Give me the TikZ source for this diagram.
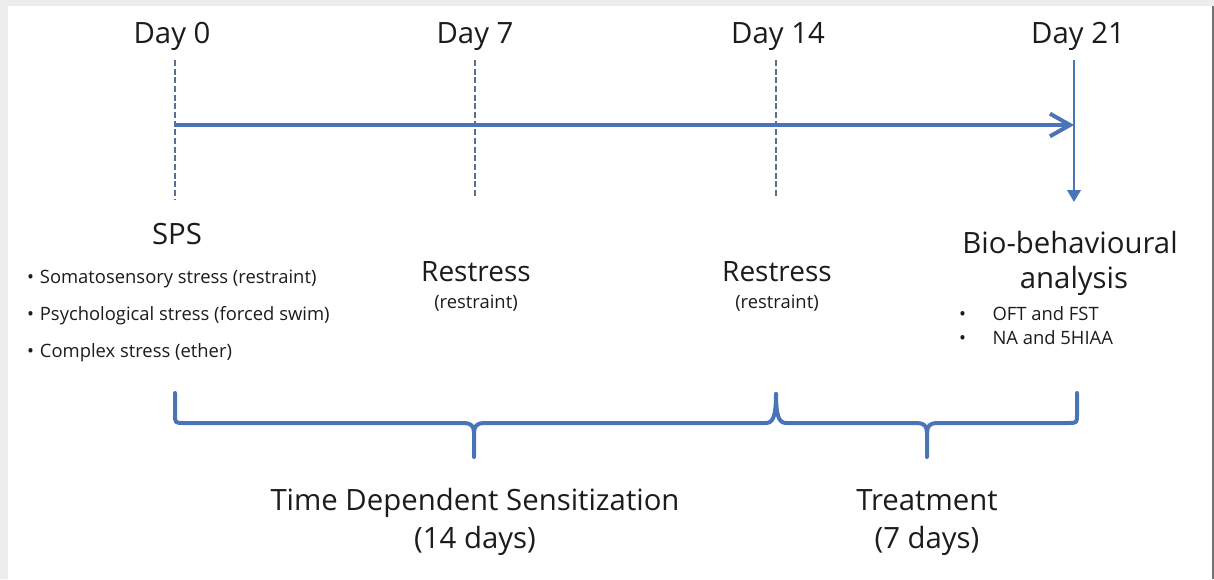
\documentclass[tikz,border=0pt]{standalone}
\usepackage{fontspec}
\setmainfont{Open Sans}
\usetikzlibrary{arrows.meta}
\definecolor{tlblue}{HTML}{4A74B8}
\definecolor{dashc}{HTML}{5A7090}
\definecolor{txt}{HTML}{1C1C1C}
\begin{document}
\begin{tikzpicture}[x=0.75pt,y=-0.75pt,
  every node/.style={text=txt,inner sep=0pt,outer sep=0pt},
  big/.style={font=\fontsize{22}{26}\selectfont,anchor=base},
  mid/.style={font=\fontsize{21}{25}\selectfont,anchor=base},
  small/.style={font=\fontsize{13.8}{17}\selectfont,anchor=base},
  smallleft/.style={font=\fontsize{13.8}{17}\selectfont,anchor=base west},
  dashline/.style={draw=dashc,line width=2pt,dash pattern=on 4.5pt off 2pt},
  mainarrow/.style={draw=tlblue,line width=3pt,-{Straight Barb[length=15pt,width=17pt]}},
  downarrow/.style={draw=tlblue,line width=2.2pt,-{Triangle[length=9pt,width=10pt]}},
  bracestyle/.style={draw=tlblue,line width=3pt,line cap=round,line join=round}]
\useasboundingbox (0,0) rectangle (1214,579);
\fill[white] (0,0) rectangle (1214,579);
\fill[black!7] (0,0) rectangle (1214,6);
\fill[black!7] (0,0) rectangle (8,579);
\fill[black!55] (1212,6) rectangle (1214,579);

% day labels
\node[big] (d0) at (172,43) {Day 0};
\node[big] (d7) at (475,43) {Day 7};
\node[big] (d14) at (778,43) {Day 14};
\node[big] (d21) at (1078,43) {Day 21};

% vertical markers
\coordinate (t0) at (175,60);  \coordinate (b0) at (175,200);
\coordinate (t7) at (475,60);  \coordinate (b7) at (475,198);
\coordinate (t14) at (776,60); \coordinate (b14) at (776,198);
\coordinate (t21) at (1074,60); \coordinate (b21) at (1074,202);
\draw[dashline] (t0) -- (b0);
\draw[dashline] (t7) -- (b7);
\draw[dashline] (t14) -- (b14);
\draw[downarrow] (t21) -- (b21);

% main timeline
\coordinate (s0) at (175,125);
\coordinate (e21) at (1074,125);
\draw[mainarrow] (s0) -- (e21);

% Day 0 block
\node[big] (sps) at (177,244) {SPS};
\node[smallleft] (sp1) at (27,283) {•\hspace{4.5pt}Somatosensory stress (restraint)};
\node[smallleft] (sp2) at (27,320) {•\hspace{4.5pt}Psychological stress (forced swim)};
\node[smallleft] (sp3) at (27,357) {•\hspace{4.5pt}Complex stress (ether)};

% Restress blocks
\node[mid] (r7) at (476,281) {Restress};
\node[small] (r7b) at (476,308) {(restraint)};
\node[mid] (r14) at (777,281) {Restress};
\node[small] (r14b) at (777,308) {(restraint)};

% Day 21 block
\node[big] (bio) at (1070,253) {Bio-behavioural};
\node[big] (ana) at (1074,288) {analysis};
\node[smallleft] (bb1) at (959,320) {•\hspace{20pt}OFT and FST};
\node[smallleft] (bb2) at (959,344) {•\hspace{20pt}NA and 5HIAA};

% braces
\draw[bracestyle] (175,393) -- (175,414) .. controls (175,423) .. (184,423)
  -- (464,423) .. controls (471,423) and (474,426) .. (474,433) -- (474,457);
\draw[bracestyle] (474,433) .. controls (474,426) and (477,423) .. (484,423)
  -- (766,423) .. controls (773,423) and (776,416) .. (776,394);
\draw[bracestyle] (776,394) .. controls (776,416) and (779,423) .. (786,423)
  -- (917,423) .. controls (924,423) and (927,426) .. (927,433) -- (927,457);
\draw[bracestyle] (927,433) .. controls (927,426) and (930,423) .. (937,423)
  -- (1068,423) .. controls (1077,423) .. (1077,414) -- (1077,393);

% bottom labels
\node[big] (tds) at (475,510) {Time Dependent Sensitization};
\node[big] (tds2) at (475,548) {(14 days)};
\node[big] (trt) at (927,510) {Treatment};
\node[big] (trt2) at (927,548) {(7 days)};
\end{tikzpicture}
\end{document}
